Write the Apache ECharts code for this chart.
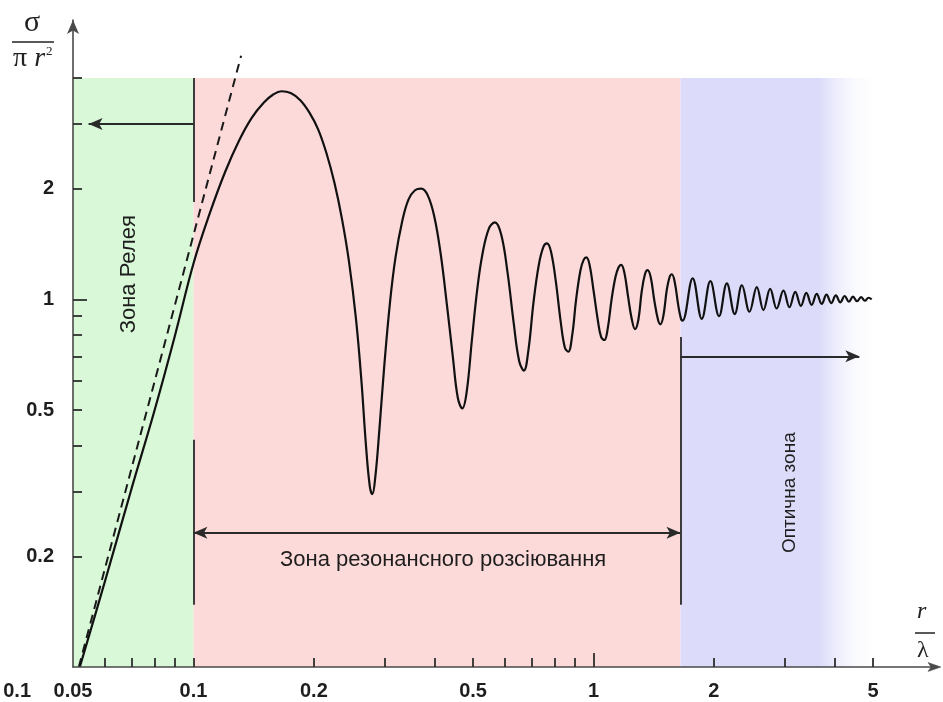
<!DOCTYPE html>
<html>
<head>
<meta charset="utf-8">
<script src="https://cdn.jsdelivr.net/npm/echarts@6/dist/echarts.min.js"></script>
<style>
  html, body { margin: 0; padding: 0; background: #ffffff; }
  #chart { width: 943px; height: 702px; }
</style>
</head>
<body>
<div id="chart"></div>
<script>
// Axis ticks and labels (log scales)
const xLabelValues = [0.05, 0.1, 0.2, 0.5, 1, 2, 5];
const xTickValues = [0.06, 0.07, 0.08, 0.09, 0.1, 0.2, 0.3, 0.4, 0.5, 0.6, 0.7, 0.8, 0.9, 2, 3, 4, 5];
const xLongTickValues = [1];
const yLabelValues = [0.1, 0.2, 0.5, 1, 2];
const yTickValues = [0.2, 0.3, 0.4, 0.5, 0.6, 0.7, 0.8, 0.9, 2, 3, 4];
const yLongTickValues = [1];

// Zone borders along r/λ and the common top of the shaded zones
const zoneEdges = [0.05, 0.1, 1.65, 5.2];
const zoneTop = 4;

// Rayleigh asymptote (dashed)
const rayleighLine = [[0.0517, 0.1], [0.1316, 4.6]];

// σ/πr² of a conducting sphere, r/λ vs value
const curveRayleigh = [
  [0.052, 0.100], [0.060, 0.170], [0.070, 0.305], [0.080, 0.500], [0.090, 0.800],
  [0.100, 1.250], [0.110, 1.720], [0.120, 2.220], [0.130, 2.700], [0.140, 3.120],
  [0.150, 3.430], [0.158, 3.600], [0.166, 3.680]
];
const curveResonance = [
  [0.175, 3.640], [0.185, 3.480], [0.195, 3.220], [0.205, 2.900], [0.215, 2.500],
  [0.225, 2.080], [0.235, 1.660], [0.245, 1.260], [0.255, 0.880], [0.263, 0.600],
  [0.270, 0.400], [0.276, 0.310], [0.280, 0.295], [0.285, 0.330], [0.292, 0.450],
  [0.300, 0.660], [0.310, 0.980], [0.320, 1.300], [0.333, 1.640], [0.345, 1.870],
  [0.358, 1.980], [0.371, 2.000], [0.385, 1.920], [0.400, 1.680], [0.415, 1.330],
  [0.430, 0.970], [0.445, 0.700], [0.458, 0.540], [0.470, 0.505], [0.482, 0.560],
  [0.497, 0.780], [0.512, 1.060], [0.528, 1.330], [0.548, 1.560], [0.567, 1.620],
  [0.588, 1.500], [0.610, 1.180], [0.632, 0.860], [0.652, 0.680], [0.670, 0.640],
  [0.688, 0.730], [0.708, 0.980], [0.730, 1.240], [0.750, 1.390], [0.765, 1.420],
  [0.783, 1.350], [0.805, 1.120], [0.828, 0.870], [0.848, 0.740], [0.865, 0.720],
  [0.885, 0.800], [0.905, 1.000], [0.928, 1.200], [0.945, 1.280], [0.960, 1.300],
  [0.978, 1.240], [1.000, 1.060], [1.025, 0.880], [1.045, 0.790], [1.065, 0.775],
  [1.085, 0.830], [1.110, 1.000], [1.135, 1.150], [1.155, 1.220], [1.173, 1.240],
  [1.195, 1.180], [1.220, 1.020], [1.245, 0.890], [1.270, 0.830], [1.295, 0.880],
  [1.320, 1.050], [1.345, 1.170], [1.365, 1.200], [1.390, 1.150], [1.420, 0.990],
  [1.450, 0.880], [1.470, 0.855], [1.495, 0.900], [1.525, 1.060], [1.550, 1.150],
  [1.570, 1.170], [1.595, 1.120], [1.630, 0.960], [1.655, 0.885]
];
const curveOptical = [
  [1.670, 0.875], [1.770, 1.140], [1.865, 0.885], [1.960, 1.120], [2.060, 0.900],
  [2.155, 1.105], [2.255, 0.912], [2.350, 1.092], [2.455, 0.925], [2.560, 1.080],
  [2.660, 0.935], [2.765, 1.068], [2.870, 0.944], [2.985, 1.056], [3.090, 0.952],
  [3.195, 1.048], [3.300, 0.960], [3.405, 1.041], [3.510, 0.966], [3.615, 1.035],
  [3.720, 0.972], [3.825, 1.030], [3.930, 0.977], [4.035, 1.025], [4.140, 0.981],
  [4.245, 1.021], [4.350, 0.985], [4.455, 1.017], [4.560, 0.988], [4.665, 1.014],
  [4.770, 0.991], [4.870, 1.010], [4.960, 1.000]
];

// Boundary marks and arrows
const rayleighBorderTop = [4, 1.84];
const resonanceBorder = [0.415, 0.1476];
const opticalBorder = [0.79, 0.1476];
const rayleighArrow = [[0.1, 3], [0.0547, 3]];
const opticalArrow = [[1.65, 0.7], [4.62, 0.7]];
const resonanceArrow = [[0.1, 0.2317], [1.65, 0.2317]];

// Zone captions: [x, y, text, rotation in degrees, font size]
const zoneCaptions = [
  [0.069, 1.17, 'Зона Релея', 90, 22],
  [0.421, 0.196, 'Зона резонансного розсіювання', 0, 22],
  [3.10, 0.298, 'Оптична зона', 90, 19]
];

const chartWidth = 943, chartHeight = 702;
const gridBox = { left: 73, right: 9, top: 20, bottom: 35 };

const chart = echarts.init(document.getElementById('chart'), null,
  { renderer: 'canvas', width: chartWidth, height: chartHeight });

const textFont = '"Liberation Sans", Arial, sans-serif';
const labelStyle = { fontSize: 20, fontWeight: 'bold', color: '#1e1e1e', fontFamily: 'Liberation Sans, Arial, sans-serif' };
const xMin = 0.05, xMax = 7.10, yMin = 0.1, yMax = 5.75;

const curveData = curveRayleigh.concat(curveResonance, curveOptical);

function ends(a, b, symA, symB) {
  return [
    { coord: a, symbol: symA },
    { coord: b, symbol: symB }
  ];
}

const tickStyle = { color: '#2e2e2e', width: 1.8 };
const axisColor = '#4a4a4a';

// End of the horizontal axis in pixels, where its arrow head sits
const ax = chartWidth - gridBox.right;
const ay = chartHeight - gridBox.bottom;

const option = {
  backgroundColor: '#ffffff',
  animation: false,
  grid: Object.assign({ containLabel: false, outerBoundsMode: 'none' }, gridBox),
  xAxis: [
    {
      type: 'log', min: xMin, max: xMax, logBase: 10, z: 10,
      axisLine: { show: true, symbol: 'none', lineStyle: { color: axisColor, width: 1.6 } },
      axisTick: { show: true, inside: true, length: 9, customValues: xTickValues, lineStyle: tickStyle },
      axisLabel: Object.assign({ show: true, margin: 14, customValues: xLabelValues,
        formatter: v => String(+v.toPrecision(3)) }, labelStyle),
      splitLine: { show: false }, minorTick: { show: false }
    },
    {
      type: 'log', min: xMin, max: xMax, logBase: 10, position: 'bottom', z: 10,
      axisLine: { show: false },
      axisTick: { show: true, inside: true, length: 14, customValues: xLongTickValues, lineStyle: tickStyle },
      axisLabel: { show: false },
      splitLine: { show: false }
    }
  ],
  yAxis: [
    {
      type: 'log', min: yMin, max: yMax, logBase: 10, z: 10,
      axisLine: { show: true, symbol: ['none', 'arrow'], symbolSize: [9, 14],
        lineStyle: { color: axisColor, width: 1.6 } },
      axisTick: { show: true, inside: true, length: 9, customValues: yTickValues, lineStyle: tickStyle },
      axisLabel: Object.assign({ show: true, margin: 19, customValues: yLabelValues,
        formatter: v => Math.abs(v - 0.1) < 1e-9 ? '{low|0.1}' : String(+v.toPrecision(3)),
        rich: { low: Object.assign({ padding: [48, 23, 0, 0] }, labelStyle) } }, labelStyle),
      splitLine: { show: false }, minorTick: { show: false }
    },
    {
      type: 'log', min: yMin, max: yMax, logBase: 10, position: 'left', z: 10,
      axisLine: { show: false },
      axisTick: { show: true, inside: true, length: 14, customValues: yLongTickValues, lineStyle: tickStyle },
      axisLabel: { show: false },
      splitLine: { show: false }
    }
  ],
  graphic: {
    elements: [
      // σ / πr² fraction beside the vertical axis
      { type: 'text', x: 24, y: 8, z: 20, style: { text: 'σ', font: '30px "Liberation Serif", serif', fill: '#222' } },
      { type: 'line', z: 20, shape: { x1: 12, y1: 42, x2: 54, y2: 42 }, style: { stroke: '#222', lineWidth: 1.5 } },
      { type: 'text', x: 13, y: 45, z: 20, style: {
          text: '{p|π }{r|r}{s|2}',
          rich: {
            p: { font: '28px "Liberation Serif", serif', fill: '#222' },
            r: { font: 'italic 28px "Liberation Serif", serif', fill: '#222' },
            s: { font: '13px "Liberation Serif", serif', fill: '#222', verticalAlign: 'top', padding: [0, 0, 10, 1] }
          } } },
      // r / λ fraction beside the horizontal axis
      { type: 'text', x: 917, y: 600, z: 20, style: { text: 'r', font: 'italic 24px "Liberation Serif", serif', fill: '#222' } },
      { type: 'line', z: 20, shape: { x1: 915, y1: 633, x2: 935, y2: 633 }, style: { stroke: '#222', lineWidth: 1.5 } },
      { type: 'text', x: 917, y: 639, z: 20, style: { text: 'λ', font: '24px "Liberation Serif", serif', fill: '#222' } },
      // arrow head closing the horizontal axis
      { type: 'polygon', z: 20, silent: true,
        shape: { points: [[ax - 6, ay - 4.5], [ax + 7, ay], [ax - 6, ay + 4.5], [ax - 3, ay]] },
        style: { fill: axisColor, stroke: axisColor, lineWidth: 0.5 } }
    ]
  },
  series: [
    {
      name: 'zones', type: 'line', data: [], silent: true, z: 0,
      markArea: {
        silent: true,
        data: [
          [{ xAxis: zoneEdges[0], yAxis: yMin, itemStyle: { color: '#d8f8d8' } }, { xAxis: zoneEdges[1], yAxis: zoneTop }],
          [{ xAxis: zoneEdges[1], yAxis: yMin, itemStyle: { color: '#fddada' } }, { xAxis: zoneEdges[2], yAxis: zoneTop }],
          [{ xAxis: zoneEdges[2], yAxis: yMin, itemStyle: {
              color: new echarts.graphic.LinearGradient(0, 0, 1, 0, [
                { offset: 0, color: '#dcdcfa' },
                { offset: 0.7, color: '#dcdcfa' },
                { offset: 1, color: 'rgba(255,255,255,0)' }
              ]) } }, { xAxis: zoneEdges[3], yAxis: zoneTop }]
        ]
      }
    },
    {
      name: 'borders', type: 'line', data: [], silent: true, z: 3,
      markLine: {
        silent: true, animation: false,
        symbol: ['none', 'none'], symbolSize: [9, 14],
        label: { show: false },
        lineStyle: { color: '#2a2a2a', width: 1.8, type: 'solid' },
        emphasis: { disabled: true },
        data: [
          ends([zoneEdges[1], rayleighBorderTop[0]], [zoneEdges[1], rayleighBorderTop[1]], 'none', 'none'),
          ends([zoneEdges[1], resonanceBorder[0]], [zoneEdges[1], resonanceBorder[1]], 'none', 'none'),
          ends([zoneEdges[2], opticalBorder[0]], [zoneEdges[2], opticalBorder[1]], 'none', 'none'),
          ends(rayleighArrow[0], rayleighArrow[1], 'none', 'arrow'),
          ends(opticalArrow[0], opticalArrow[1], 'none', 'arrow'),
          ends(resonanceArrow[0], resonanceArrow[1], 'arrow', 'arrow')
        ]
      }
    },
    {
      name: 'rayleigh', type: 'line', data: rayleighLine, z: 4,
      symbol: 'none', silent: true,
      lineStyle: { color: '#1a1a1a', width: 2, type: [9, 6] }
    },
    {
      name: 'sigma', type: 'line', data: curveData, z: 5,
      symbol: 'none', smooth: 0.4, silent: true,
      lineStyle: { color: '#111', width: 2.2 }
    },
    {
      name: 'captions', type: 'custom', z: 6, silent: true,
      data: zoneCaptions,
      renderItem: function (params, api) {
        const c = zoneCaptions[params.dataIndex];
        const p = api.coord([c[0], c[1]]);
        return {
          type: 'text', x: p[0], y: p[1], rotation: c[3] * Math.PI / 180,
          style: { text: c[2], font: c[4] + 'px ' + textFont, fill: '#1e1e1e',
            align: 'center', verticalAlign: 'middle' }
        };
      }
    }
  ]
};

chart.setOption(option);
</script>
</body>
</html>
